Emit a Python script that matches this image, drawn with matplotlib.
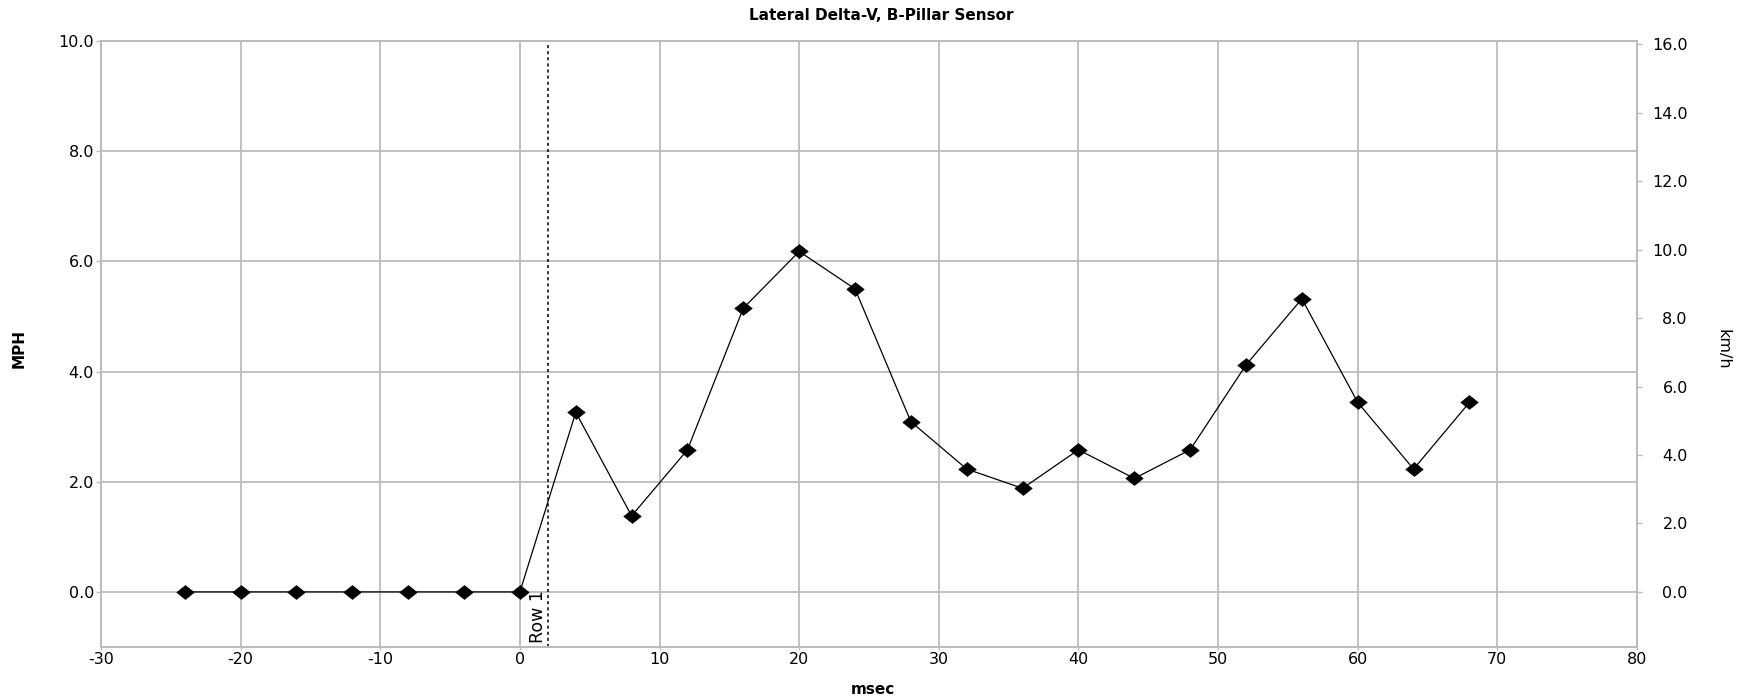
import matplotlib
matplotlib.use("Agg")
import matplotlib.pyplot as plt
from matplotlib.ticker import FixedLocator, FuncFormatter
from matplotlib.path import Path

plt.rcParams['font.family'] = ['DejaVu Sans']
plt.rcParams['axes.unicode_minus'] = False

# Data
time_ms = [-24, -20, -16, -12, -8, -4, 0, 4, 8, 12, 16, 20, 24, 28, 32, 36, 40, 44, 48, 52, 56, 60, 64, 68]
delta_v_mph = [0.0, 0.0, 0.0, 0.0, 0.0, 0.0, 0.0, 3.26, 1.38, 2.58, 5.15, 6.18, 5.50, 3.09, 2.23, 1.88,
               2.58, 2.06, 2.58, 4.12, 5.32, 3.44, 2.23, 3.44]
marker_time = 2
marker_label = "Row 1"
title = "Lateral Delta-V, B-Pillar Sensor"
x_ticks = [-30, -20, -10, 0, 10, 20, 30, 40, 50, 60, 70, 80]
y_ticks_mph = [0, 2, 4, 6, 8, 10]
y_ticks_kmh = [0, 2, 4, 6, 8, 10, 12, 14, 16]
MPH_TO_KMH = 1.609344

W, H = 1748, 699
fig = plt.figure(figsize=(W / 100, H / 100), dpi=100)
left, right, top, bottom = 101, 1637, 41, 647
ax = fig.add_axes([left / W, 1 - bottom / H, (right - left) / W, (bottom - top) / H])

grid_c = '#bcbcbc'
ax.set_xlim(-30, 80)
ax.set_ylim(-1, 10)
ax.xaxis.set_major_locator(FixedLocator(x_ticks))
ax.yaxis.set_major_locator(FixedLocator(y_ticks_mph))
ax.yaxis.set_major_formatter(FuncFormatter(lambda v, p: f"{v:.1f}"))
ax.grid(True, color=grid_c, linewidth=1.3)
ax.set_axisbelow(True)
for s in ax.spines.values():
    s.set_color(grid_c)
    s.set_linewidth(1.3)
ax.tick_params(axis='both', colors=grid_c, labelcolor='black', labelsize=11.5, width=1)
ax.tick_params(axis='y', length=3.6, pad=1.5)
ax.tick_params(axis='x', length=2.5, pad=1.2)

diamond = Path([(-1.0, 0.0), (0.0, 0.8), (1.0, 0.0), (0.0, -0.8), (-1.0, 0.0)],
               [Path.MOVETO, Path.LINETO, Path.LINETO, Path.LINETO, Path.CLOSEPOLY])
ax.plot(time_ms, delta_v_mph, color='black', linewidth=0.9, marker=diamond, markersize=12.5,
        markerfacecolor='black', markeredgecolor='black', markeredgewidth=0.5, zorder=3)

ax.axvline(marker_time, color='black', linestyle=(0, (2, 2)), linewidth=1.1, zorder=2)
ax.text(marker_time - 0.03, -0.93, marker_label, rotation=90, ha='right', va='bottom',
        fontsize=12.5, color='black')

ax2 = ax.twinx()
ax2.set_ylim(-1 * MPH_TO_KMH, 10 * MPH_TO_KMH)
ax2.yaxis.set_major_locator(FixedLocator(y_ticks_kmh))
ax2.yaxis.set_major_formatter(FuncFormatter(lambda v, p: f"{v:.1f}"))
for s in ax2.spines.values():
    s.set_color(grid_c)
    s.set_linewidth(1.3)
ax2.tick_params(axis='y', colors=grid_c, labelcolor='black', labelsize=11.5, length=3.6, width=1, pad=34)

# Labels and title positioned in figure pixels
fig.text(881 / W, 1 - 15 / H, title, ha='center', va='center', fontsize=11, fontweight='bold')
fig.text(873 / W, 1 - 690 / H, "msec", ha='center', va='center', fontsize=11, fontweight='bold')
fig.text(19.5 / W, 1 - 349 / H, "MPH", ha='center', va='center', rotation=90, fontsize=11, fontweight='bold')
fig.text(1723 / W, 1 - 349 / H, "km/h", ha='center', va='center', rotation=270, fontsize=11.5)

# right-align the right-hand tick labels
fig.canvas.draw()
for tick in ax2.yaxis.get_major_ticks():
    tick.label2.set_horizontalalignment('right')
ax2.tick_params(axis='y', pad=33)

fig.savefig("out.png", dpi=100, facecolor='white')
